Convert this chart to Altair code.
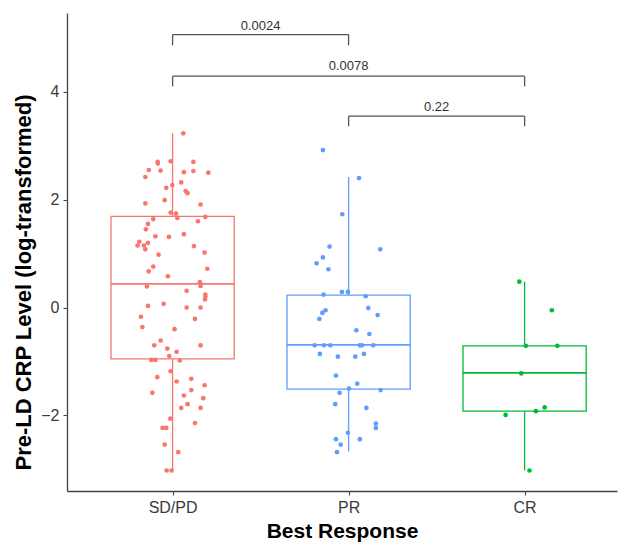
import altair as alt
import pandas as pd

groups = ["SD/PD", "PR", "CR"]
group_colors = ["#F8766D", "#619CFF", "#00BA38"]

# Jittered observations (value, horizontal jitter in category units)
sdpd_values = [3.23, 2.70, 2.67, 2.71, 2.70, 2.55, 2.42, 2.54, 2.51, 2.53, 2.50, 2.32, 2.27, 2.22, 2.16, 2.12,
               1.93, 1.99, 1.91, 1.76, 1.74, 1.66, 1.64, 1.68, 1.60, 1.55, 1.45, 1.32, 1.31, 1.36, 1.22, 1.15,
               1.20, 1.15, 1.08, 1.14, 1.02, 0.98, 0.72, 0.76, 0.67, 0.58, 0.47, 0.40, 0.39, 0.31, 0.24, 0.20,
               0.15, 0.03, 0.07, 0.00, 0.00, -0.17, -0.21, -0.36, -0.40, -0.61, -0.70, -0.76, -0.70, -0.82,
               -0.90, -0.97, -0.97, -0.98, -1.18, -1.29, -1.37, -1.32, -1.44, -1.58, -1.53, -1.63, -1.68, -1.79,
               -1.86, -1.86, -2.06, -2.14, -2.23, -2.23, -2.54, -2.68, -3.02, -3.02]
sdpd_jitter = [0.061, -0.085, -0.084, -0.011, 0.118, -0.135, -0.155, -0.068, 0.064, 0.118, 0.203, 0.049, -0.002,
               -0.036, 0.074, 0.085, -0.155, -0.045, 0.159, -0.011, 0.019, 0.027, -0.110, 0.186, 0.144, -0.140,
               -0.152, -0.098, -0.021, 0.064, -0.189, -0.199, -0.140, -0.163, -0.155, 0.121, 0.182, -0.080,
               0.197, -0.110, -0.136, -0.027, 0.155, 0.159, -0.146, 0.080, 0.186, 0.186, 0.184, -0.140, -0.051,
               0.080, 0.159, -0.180, 0.127, -0.172, 0.011, -0.068, -0.104, -0.030, 0.159, 0.023, -0.019, -0.121,
               -0.098, 0.041, -0.011, -0.087, 0.023, 0.106, 0.182, -0.115, 0.106, 0.064, 0.174, 0.085, 0.049,
               0.159, -0.013, 0.127, -0.057, -0.036, -0.045, 0.032, -0.034, -0.006]

pr_values = [2.92, 2.40, 1.73, 1.13, 1.08, 0.93, 0.82, 0.71, 0.24, 0.29, 0.29, 0.21, -0.01, -0.05, -0.10, -0.14,
             -0.21, -0.42, -0.49, -0.70, -0.70, -0.70, -0.70, -0.70, -0.70, -0.86, -0.86, -0.91, -0.91, -1.26,
             -1.41, -1.50, -1.58, -1.53, -1.79, -1.86, -2.15, -2.23, -2.32, -2.44, -2.44, -2.54, -2.68]
pr_jitter = [-0.146, 0.059, -0.036, -0.108, 0.180, -0.146, -0.182, -0.115, -0.142, -0.038, -0.004, 0.097, 0.112,
             -0.131, -0.149, 0.165, -0.166, 0.044, 0.118, -0.193, -0.140, -0.104, 0.064, 0.076, 0.140, -0.163,
             0.087, -0.061, 0.038, -0.072, 0.049, 0.002, -0.051, 0.182, -0.076, 0.101, 0.155, 0.155, -0.004,
             -0.072, 0.064, -0.045, -0.066]

cr_values = [0.48, -0.05, -0.71, -0.71, -1.22, -1.85, -1.92, -1.99, -3.02]
cr_jitter = [-0.030, 0.155, 0.007, 0.186, -0.019, 0.114, 0.064, -0.108, 0.028]

# Box-plot summaries per group
box_low = [-3.02, -2.67, -3.02]
box_q1 = [-0.95, -1.51, -1.92]
box_median = [0.44, -0.69, -1.21]
box_q3 = [1.69, 0.23, -0.71]
box_high = [3.23, 2.42, 0.48]

# Significance brackets
bracket_from = [1, 1, 2]
bracket_to = [2, 3, 3]
bracket_y = [5.06, 4.29, 3.55]
bracket_tip = [4.86, 4.10, 3.36]
bracket_label = ["0.0024", "0.0078", "0.22"]
bracket_label_y = [5.21, 4.47, 3.71]

rows = []
for gi, (vals, jit) in enumerate([(sdpd_values, sdpd_jitter), (pr_values, pr_jitter), (cr_values, cr_jitter)]):
    for v, j in zip(vals, jit):
        rows.append({"group": groups[gi], "pos": gi + 1, "jit": j, "value": v})
points_df = pd.DataFrame(rows)

box_df = pd.DataFrame({
    "group": groups, "pos": [1, 2, 3],
    "low": box_low, "q1": box_q1, "median": box_median, "q3": box_q3, "high": box_high,
})

br_df = pd.DataFrame({
    "x1": bracket_from, "x2": bracket_to, "y": bracket_y, "tip": bracket_tip,
    "label": bracket_label, "ly": bracket_label_y,
})

xscale = alt.Scale(domain=[0.4, 3.525], nice=False, zero=False)
yscale = alt.Scale(domain=[-3.40, 5.46], nice=False, zero=False)
cscale = alt.Scale(domain=groups, range=group_colors)

x_axis = alt.Axis(
    values=[1, 2, 3],
    labelExpr="datum.value == 1 ? 'SD/PD' : datum.value == 2 ? 'PR' : 'CR'",
    title="Best Response", grid=False, tickSize=4, labelPadding=4,
    titleY=46, titleBaseline="alphabetic", titleFontSize=21,
)
y_axis = alt.Axis(
    values=[-2, 0, 2, 4], title="Pre-LD CRP Level (log-transformed)", grid=False,
    tickSize=4, labelPadding=4,
    titleX=-44, titleY=269, titleAngle=270, titleAlign="center", titleBaseline="middle",
)

base_box = alt.Chart(box_df).transform_calculate(
    left="datum.pos - 0.35", right="datum.pos + 0.35"
)

boxes = base_box.mark_rect(fill=None, strokeWidth=1.3).encode(
    x=alt.X("left:Q", scale=xscale, axis=x_axis),
    x2="right:Q",
    y=alt.Y("q1:Q", scale=yscale, axis=y_axis),
    y2="q3:Q",
    stroke=alt.Stroke("group:N", scale=cscale, legend=None),
)
upper = base_box.mark_rule(strokeWidth=1.3).encode(
    x=alt.X("pos:Q", scale=xscale), y=alt.Y("q3:Q", scale=yscale), y2="high:Q",
    color=alt.Color("group:N", scale=cscale, legend=None),
)
lower = base_box.mark_rule(strokeWidth=1.3).encode(
    x=alt.X("pos:Q", scale=xscale), y=alt.Y("low:Q", scale=yscale), y2="q1:Q",
    color=alt.Color("group:N", scale=cscale, legend=None),
)
medians = base_box.mark_rule(strokeWidth=1.8).encode(
    x=alt.X("left:Q", scale=xscale), x2="right:Q", y=alt.Y("median:Q", scale=yscale),
    color=alt.Color("group:N", scale=cscale, legend=None),
)

pts = alt.Chart(points_df).transform_calculate(
    xp="datum.pos + datum.jit"
).mark_circle(size=22, opacity=1).encode(
    x=alt.X("xp:Q", scale=xscale),
    y=alt.Y("value:Q", scale=yscale),
    color=alt.Color("group:N", scale=cscale, legend=None),
)

br_color = "#555555"
br_h = alt.Chart(br_df).mark_rule(color=br_color, strokeWidth=1.3).encode(
    x=alt.X("x1:Q", scale=xscale), x2="x2:Q", y=alt.Y("y:Q", scale=yscale)
)
br_l = alt.Chart(br_df).mark_rule(color=br_color, strokeWidth=1.3).encode(
    x=alt.X("x1:Q", scale=xscale), y=alt.Y("y:Q", scale=yscale), y2="tip:Q"
)
br_r = alt.Chart(br_df).mark_rule(color=br_color, strokeWidth=1.3).encode(
    x=alt.X("x2:Q", scale=xscale), y=alt.Y("y:Q", scale=yscale), y2="tip:Q"
)
br_t = alt.Chart(br_df).transform_calculate(
    mid="(datum.x1 + datum.x2) / 2"
).mark_text(font="Liberation Sans", fontSize=13, color="#333333", baseline="middle").encode(
    x=alt.X("mid:Q", scale=xscale), y=alt.Y("ly:Q", scale=yscale), text="label:N"
)

chart = alt.layer(boxes, upper, lower, medians, pts, br_h, br_l, br_r, br_t).properties(
    width=550, height=478,
    autosize=alt.AutoSizeParams(type="none"),
    padding={"left": 59, "top": 5, "right": 1, "bottom": 51},
    background="white",
).configure_view(stroke=None).configure_axis(
    domainColor="#444444", domainWidth=1.3, tickColor="#444444", tickWidth=1.1,
    labelFont="Liberation Sans", labelFontSize=16, labelColor="#3a3a3a",
    titleFont="Liberation Sans", titleFontSize=22, titleFontWeight="bold", titleColor="#000000",
)

chart.save("out.html", embed_options={"renderer": "svg", "actions": False})
